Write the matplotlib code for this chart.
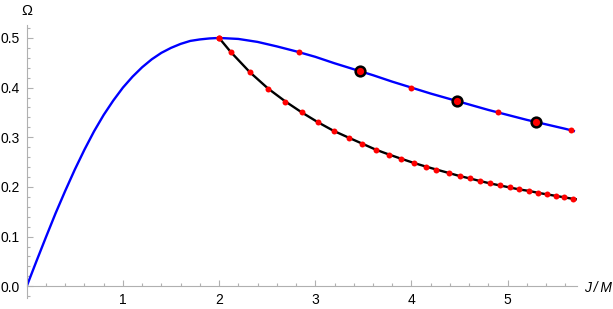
import matplotlib
matplotlib.use('Agg')

import numpy as np
import matplotlib.pyplot as plt
from matplotlib.ticker import MultipleLocator, FixedLocator

plt.rcParams['font.family'] = ['Liberation Sans', 'DejaVu Sans']

# Blue branch: Omega vs J/M
blue_x = [0.0, 0.1, 0.2, 0.3, 0.4, 0.5, 0.6, 0.7, 0.8, 0.9, 1.0, 1.1, 1.2,
          1.3, 1.4, 1.5, 1.6, 1.7, 1.8, 1.9, 2.0, 2.2, 2.4, 2.6, 2.8, 3.0,
          3.2, 3.4, 3.6, 3.8, 4.0, 4.2, 4.4, 4.6, 4.8, 5.0, 5.2, 5.4, 5.6, 5.7]
blue_y = [0.0, 0.050, 0.099, 0.147, 0.192, 0.235, 0.275, 0.312, 0.345, 0.374,
          0.400, 0.422, 0.441, 0.457, 0.470, 0.480, 0.488, 0.494, 0.497, 0.499,
          0.500, 0.498, 0.492, 0.483, 0.473, 0.462, 0.449, 0.437, 0.425, 0.412,
          0.400, 0.388, 0.377, 0.366, 0.355, 0.345, 0.335, 0.326, 0.317, 0.312]

# dots on the blue branch
blue_dot_x = [2.0, 2.83, 4.0, 4.9, 5.66]
blue_dot_y = [0.500, 0.471, 0.400, 0.350, 0.314]
big_dot_x = [3.46, 4.47, 5.29]
big_dot_y = [0.433, 0.373, 0.331]

# Black branch with its dots
black_x = [2.0, 2.12, 2.32, 2.51, 2.69, 2.86, 3.03, 3.19, 3.35, 3.49, 3.63,
           3.77, 3.89, 4.03, 4.15, 4.26, 4.39, 4.50, 4.61, 4.71, 4.82, 4.92,
           5.02, 5.12, 5.22, 5.32, 5.41, 5.50, 5.59, 5.68]
black_y = [0.500, 0.472, 0.431, 0.398, 0.372, 0.350, 0.330, 0.313, 0.299,
           0.287, 0.275, 0.265, 0.257, 0.248, 0.241, 0.235, 0.228, 0.222,
           0.217, 0.212, 0.207, 0.203, 0.199, 0.195, 0.192, 0.188, 0.185,
           0.182, 0.179, 0.176]
black_end = (5.72, 0.175)

W, H = 613, 309
fig = plt.figure(figsize=(W / 100, H / 100), dpi=100)
ax = fig.add_axes([0.0436, 0.035, 0.8975, 0.884])

ax.plot(blue_x, blue_y, color='#0000ff', lw=1.7, solid_capstyle='butt', zorder=2)
ax.plot(black_x + [black_end[0]], black_y + [black_end[1]], color='black', lw=1.7,
        solid_capstyle='butt', zorder=2)
ax.plot(black_x, black_y, 'o', color='#ff0000', ms=4.3, mew=0, zorder=3)
ax.plot(blue_dot_x, blue_dot_y, 'o', color='#ff0000', ms=4.3, mew=0, zorder=3)
ax.plot(big_dot_x, big_dot_y, 'o', mfc='#ff0000', mec='black', ms=7, mew=1.8, zorder=4)

ax.set_xlim(0, 5.72)
ax.set_ylim(-0.024, 0.526)

gray = '#b0b0b0'
for s in ['top', 'right']:
    ax.spines[s].set_visible(False)
ax.spines['bottom'].set_position(('data', 0))
ax.spines['left'].set_color(gray)
ax.spines['bottom'].set_color(gray)

ax.xaxis.set_major_locator(FixedLocator([1, 2, 3, 4, 5]))
ax.xaxis.set_minor_locator(MultipleLocator(0.2))
ax.yaxis.set_major_locator(FixedLocator([0.0, 0.1, 0.2, 0.3, 0.4, 0.5]))
ax.yaxis.set_minor_locator(MultipleLocator(0.02))
ax.set_yticklabels(['0.0', '0.1', '0.2', '0.3', '0.4', '0.5'])
ax.tick_params(which='both', direction='in', color=gray, labelsize=10, width=0.8)
ax.tick_params(which='major', length=4, pad=5)
ax.tick_params(which='minor', length=2)

# axis labels placed like Mathematica's AxesLabel
fig.text(26.5 / W, 1 - 15 / H, '\u03a9', fontsize=10.5, ha='center', va='baseline')
fig.text(584 / W, 1 - 292.5 / H, 'J\u2009/\u2009M', fontsize=10, style='italic',
         ha='left', va='baseline')

fig.savefig('out.png', dpi=100)
